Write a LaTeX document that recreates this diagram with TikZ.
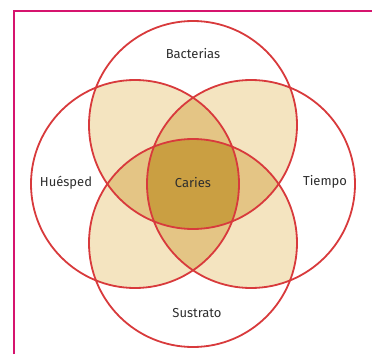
\documentclass[tikz,border=0pt]{standalone}
\usepackage{fontspec}
\setmainfont{Fira Sans}
\definecolor{framec}{HTML}{D6146E}
\definecolor{ringc}{HTML}{D83A3C}
\definecolor{twoc}{HTML}{F4E4C0}
\definecolor{threec}{HTML}{E4C585}
\definecolor{fourc}{HTML}{CA9F42}
\definecolor{txtc}{HTML}{2E2E2E}
\begin{document}
\begin{tikzpicture}[x=1pt,y=-1pt,
  ring/.style={draw=ringc,line width=1.8pt},
  lbl/.style={text=txtc,font=\fontsize{13}{15}\selectfont,inner sep=0pt}]
\useasboundingbox (0,0) rectangle (372,354);
\def\R{104}
\coordinate (T) at (193,125);
\coordinate (B) at (193,243);
\coordinate (L) at (135,184);
\coordinate (Rt) at (251,184);
% pairwise overlaps
\foreach \a/\b in {T/L,T/Rt,B/L,B/Rt,T/B,L/Rt}{
  \begin{scope}
    \clip (\a) circle (\R);
    \fill[twoc] (\b) circle (\R);
  \end{scope}
}
% triple overlaps
\foreach \a/\b/\c in {T/L/Rt,T/L/B,T/Rt/B,B/L/Rt}{
  \begin{scope}
    \clip (\a) circle (\R);
    \clip (\b) circle (\R);
    \fill[threec] (\c) circle (\R);
  \end{scope}
}
% quadruple overlap
\begin{scope}
  \clip (T) circle (\R);
  \clip (B) circle (\R);
  \clip (L) circle (\R);
  \fill[fourc] (Rt) circle (\R);
\end{scope}
\draw[ring] (T) circle (\R);
\draw[ring] (B) circle (\R);
\draw[ring] (L) circle (\R);
\draw[ring] (Rt) circle (\R);
\node[lbl] (bac) at (193,54) {Bacterias};
\node[lbl] (hue) at (66,183) {Huésped};
\node[lbl] (tie) at (325,182) {Tiempo};
\node[lbl] (car) at (193,183) {Caries};
\node[lbl] (sus) at (197,313) {Sustrato};
% frame
\coordinate (f1) at (13.7,354);
\coordinate (f2) at (13.7,11);
\coordinate (f3) at (372,11);
\draw[framec,line width=2pt] (f1) -- (f2) -- (f3);
\end{tikzpicture}
\end{document}
